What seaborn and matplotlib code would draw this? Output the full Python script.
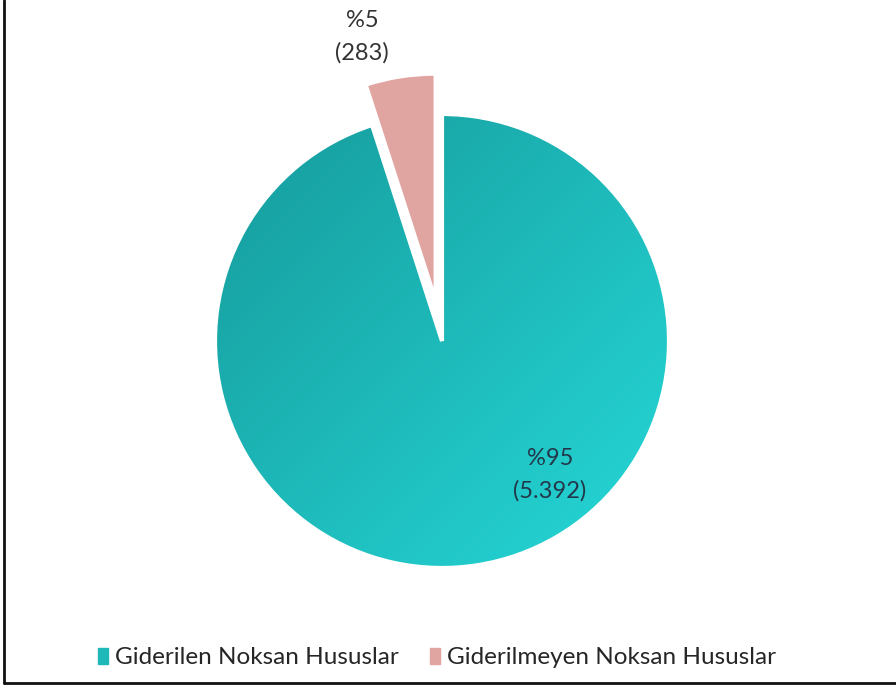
import numpy as np
import matplotlib.pyplot as plt
import seaborn as sns
from matplotlib.colors import LinearSegmentedColormap
from matplotlib.lines import Line2D

# Data
categories = ["Giderilen Noksan Hususlar", "Giderilmeyen Noksan Hususlar"]
counts = [5392, 283]
pct_labels = ["%95\n(5.392)", "%5\n(283)"]

sns.set_theme(style="white")
plt.rcParams['font.family'] = ['Lato', 'DejaVu Sans']

teal_dark = "#169a9b"
teal_light = "#26d8d8"
pink = "#e0a4a1"

fig = plt.figure(figsize=(8.96, 6.89), dpi=100)
ax = fig.add_axes([0, 0, 1, 1])

wedges, _ = ax.pie(counts, startangle=90, counterclock=False,
                   explode=[0, 0.18], colors=[teal_dark, pink],
                   wedgeprops=dict(edgecolor="white", linewidth=3))

# gradient fill for the big slice
cmap = LinearSegmentedColormap.from_list("teal", [teal_dark, teal_light])
gx, gy = np.meshgrid(np.linspace(-1, 1, 300), np.linspace(1, -1, 300))
grad = (gx - gy) / 2
img = ax.imshow(grad, cmap=cmap, extent=(-1, 1, -1, 1), zorder=0.5, aspect="auto")
img.set_clip_path(wedges[0])
wedges[0].set_facecolor("none")
wedges[0].set_zorder(1)

ax.text(0.476, -0.59, pct_labels[0], ha="center", va="center",
        fontsize=17, color="#22384a", linespacing=1.6)
ax.text(-0.352, 1.34, pct_labels[1], ha="center", va="center",
        fontsize=17, color="#333333", linespacing=1.6)

ax.set_xlim(-442 / 227, (896 - 442) / 227)
ax.set_ylim(-(689 - 341) / 227, 341 / 227)
ax.set_aspect("auto")
ax.axis("off")

handles = [plt.Rectangle((0, 0), 1, 1, color=c) for c in ["#1fb8b9", pink]]
fig.legend(handles, categories, loc="center", bbox_to_anchor=(0.488, 0.045),
           ncol=2, frameon=False, fontsize=17.5, handlelength=0.4,
           handleheight=0.6, handletextpad=0.3, columnspacing=1.3)

# frame lines (left and bottom)
fig.add_artist(Line2D([4 / 896, 4 / 896], [6 / 689, 1], color="#111111", lw=2))
fig.add_artist(Line2D([4 / 896, 1], [6 / 689, 6 / 689], color="#111111", lw=2))

fig.savefig("out.png", dpi=100)
